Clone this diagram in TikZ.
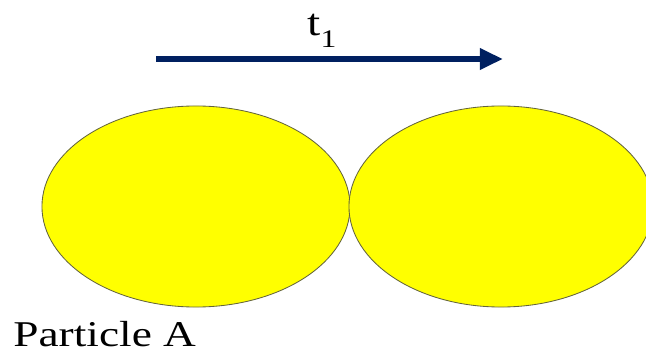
\documentclass[tikz,border=0pt]{standalone}
\usepackage{fontspec}
\setmainfont{Liberation Serif}
\usetikzlibrary{arrows.meta,shapes.geometric}
\definecolor{navy}{RGB}{0,32,96}
\definecolor{rim}{RGB}{100,100,60}
\definecolor{fillyellow}{RGB}{255,255,0}
\begin{document}
\begin{tikzpicture}[x=0.025cm, y=-0.025cm, line join=round,
		particle/.style={ellipse, draw=rim, fill=fillyellow, line width=0.6pt, minimum height=5.025cm, inner sep=0pt},
		label/.style={inner sep=0pt, anchor=base west, xscale=1.25}]
	\useasboundingbox (0,0) rectangle (646,354);
	\clip (0,0) rectangle (646,354);
	\node[particle, minimum width=7.7cm] (pa) at (196,206.5) {};
	\node[particle, minimum width=7.6cm] (pb) at (501,206.5) {};
	\coordinate (start) at (156,59);
	\coordinate (end) at (503,59);
	\draw[navy, line width=4.4pt, -{Triangle[length=16.4pt,width=14.4pt]}] (start) -- (end);
	\node[label] (time) at (307,36) {\fontsize{27}{30}\selectfont t\raisebox{-0.3em}{\fontsize{18}{20}\selectfont 1}};
	\node[label] (name) at (13,347) {\fontsize{25.8}{30}\selectfont Particle A};
\end{tikzpicture}
\end{document}
